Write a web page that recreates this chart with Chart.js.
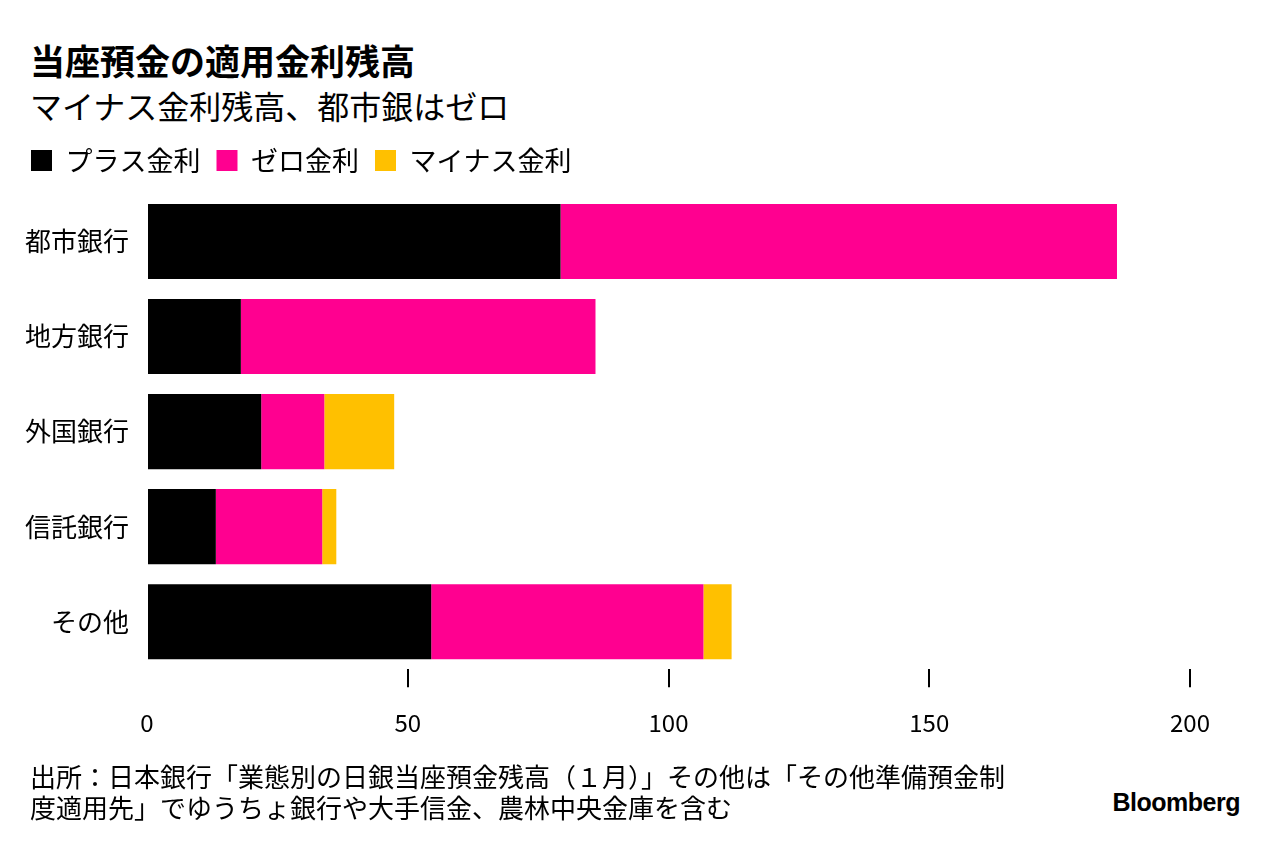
<!DOCTYPE html>
<html><head><meta charset="utf-8">
<script src="https://cdn.jsdelivr.net/npm/chart.js@4"></script>
<style>
body{margin:0;width:1280px;height:848px;background:#fff;font-family:"Noto Sans CJK JP",sans-serif;position:relative;overflow:hidden}
#t{position:absolute;left:30px;top:34px;font-size:35px;font-weight:bold;color:#000}
#s{position:absolute;left:30px;top:82px;font-size:32px;color:#000}
#f{position:absolute;left:30px;top:760px;font-size:26px;line-height:31px;color:#000}
#b{position:absolute;right:40px;top:788px;font-size:25px;font-weight:bold;font-family:"Liberation Sans",sans-serif;letter-spacing:-0.5px}
#c{position:absolute;left:7px;top:131px;width:1243px;height:627px}
</style></head><body>
<div id="t">当座預金の適用金利残高</div>
<div id="s">マイナス金利残高、都市銀はゼロ</div>
<div id="c"><canvas id="cv"></canvas></div>
<div id="f">出所：日本銀行「業態別の日銀当座預金残高（１月）」その他は「その他準備預金制<br>度適用先」でゆうちょ銀行や大手信金、農林中央金庫を含む</div>
<div id="b">Bloomberg</div>
<script>
const categories=["都市銀行","地方銀行","外国銀行","信託銀行","その他"];
const plusRate=[79.3,18.0,21.9,13.2,54.5];
const zeroRate=[106.7,68.0,12.1,20.4,52.2];
const negRate=[0,0,13.4,2.7,5.4];
const seriesNames=["プラス金利","ゼロ金利","マイナス金利"];
const xTicks=[0,50,100,150,200];
const legendGap={id:'legendGap',beforeInit(chart){const orig=chart.legend.fit;chart.legend.fit=function(){orig.bind(chart.legend)();this.height+=10;};}};
new Chart(document.getElementById('cv'),{type:'bar',
data:{labels:categories,datasets:[
{label:seriesNames[0],data:plusRate,backgroundColor:'#000'},
{label:seriesNames[1],data:zeroRate,backgroundColor:'#ff0090'},
{label:seriesNames[2],data:negRate,backgroundColor:'#ffc000'}]},
plugins:[legendGap],
options:{indexAxis:'y',responsive:true,maintainAspectRatio:false,animation:false,
categoryPercentage:1,barPercentage:0.79,
layout:{padding:{left:8,right:60,top:0,bottom:0}},
plugins:{tooltip:{enabled:false},legend:{align:'start',labels:{boxWidth:21,boxHeight:21,color:'#000',font:{size:27,family:'"Noto Sans CJK JP"'},padding:16},
}},
scales:{x:{stacked:true,min:0,max:200,afterBuildTicks:a=>{a.ticks=xTicks.map(v=>({value:v}));},
border:{display:false},grid:{drawOnChartArea:false,tickLength:18,color:c=>c.tick&&c.tick.value===0?'rgba(0,0,0,0)':'#000',lineWidth:2},
ticks:{color:'#000',font:{size:24,family:'"Noto Sans CJK JP"'},padding:21}},
y:{stacked:true,border:{display:false},grid:{display:false},ticks:{color:'#000',font:{size:26,family:'"Noto Sans CJK JP"'},padding:10}}}}});
</script></body></html>
